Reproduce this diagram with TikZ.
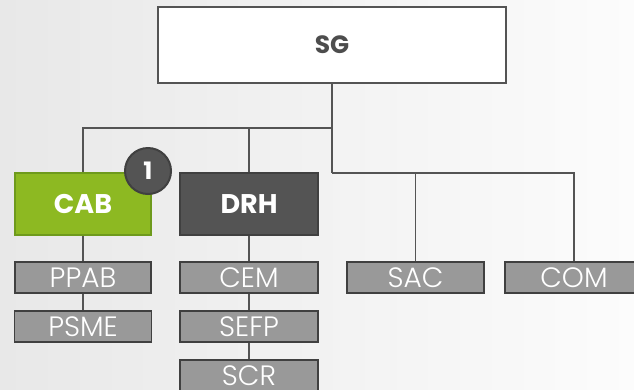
\documentclass[tikz,border=0pt]{standalone}
\usepackage{fontspec}
\setmainfont{Poppins}
\newfontfamily\thinfont{Poppins Light}
\definecolor{lineg}{HTML}{545454}
\definecolor{cabgreen}{HTML}{8DB922}
\definecolor{cabedge}{HTML}{6E9A1C}
\definecolor{drhgray}{HTML}{545454}
\definecolor{boxedge}{HTML}{404040}
\definecolor{subgray}{HTML}{999999}
\definecolor{sgtext}{HTML}{4D4D4D}
\tikzset{
  unit/.style={draw=boxedge, line width=1.5pt, minimum width=136pt, minimum height=62pt,
    inner sep=0pt, font=\fontsize{27}{27}\selectfont\bfseries, text=white},
  subunit/.style={draw=boxedge, line width=1.5pt, fill=subgray, minimum width=136pt,
    minimum height=31pt, inner sep=0pt, font=\thinfont\fontsize{28}{28}\selectfont, text=white},
  link/.style={draw=lineg, line width=1.8pt}
}
\begin{document}
\begin{tikzpicture}[x=1pt,y=-1pt]
      \useasboundingbox (0,0) rectangle (634,389);
      \clip (0,0) rectangle (634,389);
      \shade[left color={rgb,255:red,232;green,232;blue,232}, right color={rgb,255:red,252;green,252;blue,252}]
        (0,0) rectangle (634,389);
      \coordinate (j1) at (332,128);
      \coordinate (j2) at (332,173);
      \draw
        (332,45) node[draw=lineg, line width=1.5pt, fill=white, minimum width=348pt, minimum height=76pt,
          font=\fontsize{25}{25}\selectfont\bfseries, text=sgtext] (sg){SG}
        (83,204) node[unit, fill=cabgreen, draw=cabedge] (cab){CAB}
        (249,204) node[unit, fill=drhgray, minimum width=138pt] (drh){DRH}
        (83,277.5) node[subunit] (ppab){PPAB}
        (83,326.5) node[subunit, minimum width=137pt] (psme){PSME}
        (249,277.5) node[subunit, minimum width=138pt] (cem){CEM}
        (249,326.5) node[subunit, minimum width=138pt] (sefp){SEFP}
        (249,375.5) node[subunit, minimum width=138pt] (scr){SCR}
        (415.5,277.5) node[subunit, minimum width=137pt] (sac){SAC}
        (574,277.5) node[subunit, minimum width=138pt] (com){COM};
      \begin{scope}[link]
        \draw (sg) -- (j2);
        \draw (j1) -| (cab);
        \draw (j1) -| (drh);
        \draw (j2) -| (sac);
        \draw (j2) -| (com);
        \draw (cab) -- (ppab);
        \draw (ppab) -- (psme);
        \draw (drh) -- (cem);
        \draw (cem) -- (sefp);
        \draw (sefp) -- (scr);
      \end{scope}
      \node[circle, draw=boxedge, line width=2pt, fill=drhgray, minimum size=46pt, inner sep=0pt,
        font=\fontsize{24}{24}\selectfont\bfseries, text=white] (badge) at (148,171) {1};
    \end{tikzpicture}
\end{document}
